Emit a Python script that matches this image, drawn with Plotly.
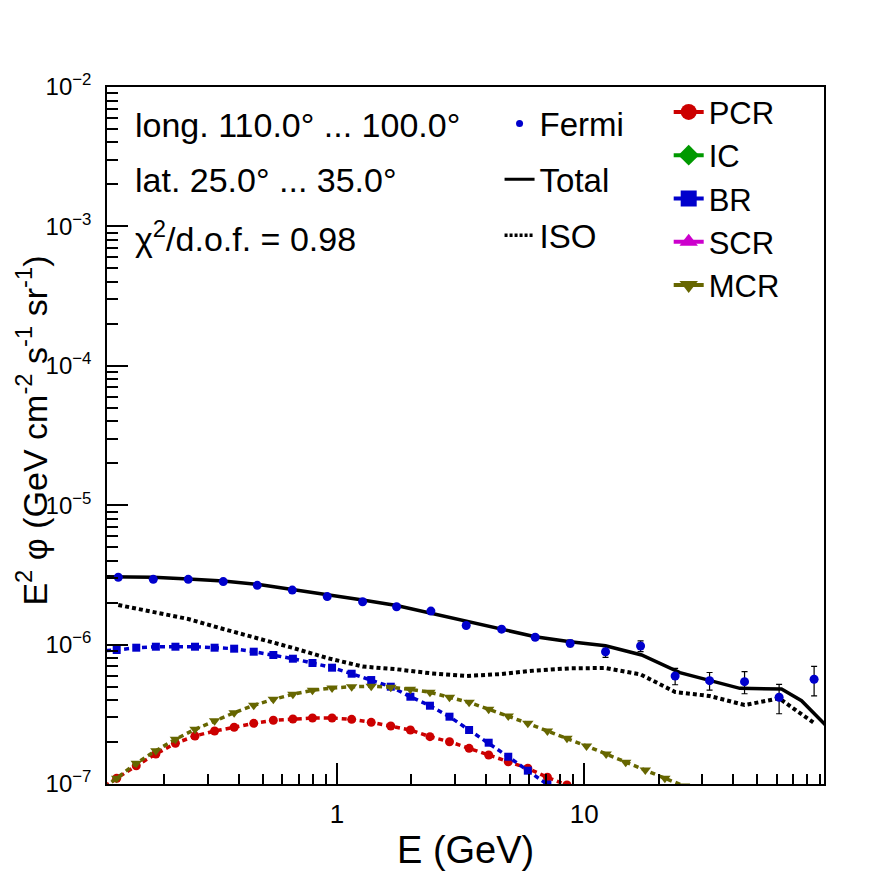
import plotly.graph_objects as go

# ---------------- data ----------------
E_fermi = [0.1305, 0.1808, 0.2504, 0.3469, 0.4762, 0.6597, 0.9137, 1.270, 1.743, 2.399,
           3.333, 4.634, 6.337, 8.778, 12.20, 16.91, 23.33, 32.15, 44.53, 61.44, 85.11]
fermi_flux = [3.04e-6, 2.94e-6, 2.94e-6, 2.83e-6, 2.66e-6, 2.46e-6, 2.21e-6, 2.03e-6, 1.87e-6, 1.74e-6,
              1.37e-6, 1.29e-6, 1.13e-6, 1.02e-6, 8.89e-7, 9.77e-7, 5.95e-7, 5.51e-7, 5.42e-7, 4.19e-7, 5.64e-7]
fermi_err = [9.0e-8, 8.8e-8, 8.8e-8, 8.5e-8, 8.0e-8, 7.4e-8, 6.6e-8, 6.1e-8, 5.6e-8, 5.2e-8,
             4.1e-8, 4.5e-8, 5.0e-8, 5.5e-8, 7.8e-8, 8.7e-8, 8.0e-8, 8.0e-8, 9.8e-8, 1.0e-7, 1.35e-7]

E_model = [0.1072, 0.1286, 0.1543, 0.1852, 0.2222, 0.2667, 0.3200, 0.3840, 0.4608, 0.5530,
           0.6636, 0.7963, 0.9556, 1.147, 1.376, 1.651, 1.982, 2.378, 2.853, 3.424,
           4.109, 4.931, 5.917, 7.100, 8.520, 10.22, 12.27, 14.72, 17.67, 21.20,
           25.44, 30.53, 36.64, 43.96, 52.76, 63.31, 75.97, 91.17]
pcr = [8.91e-8, 1.099e-7, 1.353e-7, 1.641e-7, 1.959e-7, 2.210e-7, 2.400e-7, 2.551e-7, 2.724e-7, 2.864e-7,
       2.926e-7, 2.975e-7, 2.975e-7, 2.911e-7, 2.770e-7, 2.606e-7, 2.440e-7, 2.185e-7, 2.011e-7, 1.803e-7,
       1.614e-7, 1.445e-7, 1.296e-7, 1.117e-7, 9.84e-8, 8.62e-8, 7.55e-8]
br = [8.995e-7, 9.145e-7, 9.501e-7, 9.658e-7, 9.658e-7, 9.658e-7, 9.501e-7, 9.346e-7, 8.893e-7, 8.421e-7,
      7.921e-7, 7.379e-7, 6.829e-7, 6.183e-7, 5.570e-7, 4.989e-7, 4.228e-7, 3.645e-7, 3.040e-7, 2.440e-7,
      1.978e-7, 1.569e-7, 1.246e-7, 9.92e-8, 7.93e-8]
mcr = [8.62e-8, 1.099e-7, 1.408e-7, 1.733e-7, 2.092e-7, 2.468e-7, 2.844e-7, 3.247e-7, 3.668e-7, 4.051e-7,
       4.398e-7, 4.698e-7, 4.880e-7, 4.989e-7, 5.022e-7, 4.940e-7, 4.780e-7, 4.548e-7, 4.186e-7, 3.855e-7,
       3.434e-7, 3.075e-7, 2.724e-7, 2.400e-7, 2.127e-7, 1.873e-7, 1.641e-7, 1.431e-7, 1.260e-7, 1.099e-7,
       9.67e-8, 8.48e-8]
ic = []    # not visible within the plotted range
scr = []   # not visible within the plotted range

iso = [1.924e-6, 1.722e-6, 1.526e-6, 1.294e-6, 1.115e-6, 9.50e-7, 8.01e-7, 6.966e-7, 6.651e-7, 6.224e-7,
       5.952e-7, 6.153e-7, 6.520e-7, 6.761e-7, 6.794e-7, 6.112e-7, 4.571e-7, 4.277e-7, 3.687e-7, 4.118e-7, 2.738e-7]

E_total = [0.1072, 0.1305, 0.1808, 0.2504, 0.3469, 0.4762, 0.6597, 0.9137, 1.270, 1.743, 2.399,
           3.333, 4.634, 6.337, 8.778, 12.20, 17.07, 24.38, 42.63, 62.83, 75.70, 94.04, 100.0]
total = [3.070e-6, 3.055e-6, 3.040e-6, 2.956e-6, 2.859e-6, 2.707e-6, 2.492e-6, 2.268e-6, 2.089e-6, 1.907e-6,
         1.677e-6, 1.460e-6, 1.288e-6, 1.139e-6, 1.049e-6, 9.82e-7, 8.42e-7, 6.286e-7, 4.857e-7, 4.802e-7,
         3.958e-7, 2.681e-7, 2.400e-7]

y_tick_vals = [1e-7, 1e-6, 1e-5, 1e-4, 1e-3, 1e-2]
y_tick_text = ["10<sup>\u22127</sup>", "10<sup>\u22126</sup>", "10<sup>\u22125</sup>",
               "10<sup>\u22124</sup>", "10<sup>\u22123</sup>", "10<sup>\u22122</sup>"]
x_tick_vals = [1, 10]
x_tick_text = ["1", "10"]

info_lines = ["long. 110.0\u00b0 ... 100.0\u00b0", "lat. 25.0\u00b0 ... 35.0\u00b0",
              "\u03c7<sup>2</sup>/d.o.f. = 0.98"]
x_title = "E (GeV)"
y_title = "E<sup>2</sup> \u03c6 (GeV cm<sup>-2</sup> s<sup>-1</sup> sr<sup>-1</sup>)"

# ---------------- figure ----------------
FONT = "Liberation Sans, Arial, Helvetica, sans-serif"
RED, GREEN, BLUE, MAGENTA, OLIVE = "#cc0000", "#009900", "#0000cc", "#cc00cc", "#666600"
dash = "5px,4px"

fig = go.Figure()

components = [("PCR", pcr, RED, "circle", 9), ("IC", ic, GREEN, "diamond", 9),
              ("BR", br, BLUE, "square", 8), ("SCR", scr, MAGENTA, "triangle-up", 10),
              ("MCR", mcr, OLIVE, "triangle-down", 10)]
for name, vals, col, sym, sz in components:
    fig.add_trace(go.Scatter(x=E_model[:len(vals)], y=vals, mode="lines+markers", name=name,
                             line=dict(color=col, width=3.5, dash=dash),
                             marker=dict(symbol=sym, size=sz, color=col),
                             showlegend=False))

fig.add_trace(go.Scatter(x=E_fermi, y=iso, mode="lines", name="ISO",
                         line=dict(color="black", width=4, dash="4px,3px"), showlegend=False))
fig.add_trace(go.Scatter(x=E_total, y=total, mode="lines", name="Total",
                         line=dict(color="black", width=3.5), showlegend=False))
fig.add_trace(go.Scatter(x=E_fermi, y=fermi_flux, mode="markers", name="Fermi",
                         marker=dict(symbol="circle", size=9, color=BLUE),
                         error_y=dict(type="data", array=fermi_err, color="black", thickness=1.2, width=3),
                         showlegend=False))

# legend entries (legend-only keys)
fig.add_trace(go.Scatter(x=[None], y=[None], mode="markers", name="Fermi", legendgroup="g1",
                         marker=dict(symbol="circle", size=7, color=BLUE), legend="legend"))
fig.add_trace(go.Scatter(x=[None], y=[None], mode="lines", name="Total", legendgroup="g2",
                         line=dict(color="black", width=3), legend="legend"))
fig.add_trace(go.Scatter(x=[None], y=[None], mode="lines", name="ISO", legendgroup="g3",
                         line=dict(color="black", width=3.5, dash="3px,2px"), legend="legend"))
for name, vals, col, sym, sz in components:
    fig.add_trace(go.Scatter(x=[None], y=[None], mode="lines+markers", name=name,
                             line=dict(color=col, width=4),
                             marker=dict(symbol=sym, size=16, color=col), legend="legend2"))

for i, t in enumerate(info_lines):
    fig.add_annotation(x=0.036, y=[0.9455, 0.8666, 0.7848][i], xref="paper", yref="paper",
                       text=t, showarrow=False, xanchor="left", yanchor="middle",
                       font=dict(size=34, color="black", family=FONT))

fig.add_annotation(x=0.5, y=-0.0947, xref="paper", yref="paper", text=x_title, showarrow=False,
                   xanchor="center", yanchor="middle", font=dict(size=38, color="black", family=FONT))
fig.add_annotation(x=-0.1046, y=0.507, xref="paper", yref="paper", text=y_title, showarrow=False,
                   textangle=-90, xanchor="center", yanchor="middle",
                   font=dict(size=34, color="black", family=FONT))

# page body has an 8px default margin, so the figure margins are offset by it
fig.update_layout(
    width=896, height=872,
    margin=dict(l=99, r=80, t=79, b=96, autoexpand=False),
    paper_bgcolor="white", plot_bgcolor="white",
    font=dict(family=FONT, color="black"),
    legend=dict(x=0.5475, y=0.9878, xanchor="left", yanchor="top", traceorder="grouped",
                font=dict(size=33, family=FONT), bgcolor="rgba(0,0,0,0)",
                tracegroupgap=10, itemwidth=30),
    legend2=dict(x=0.7834, y=1.0025, xanchor="left", yanchor="top", traceorder="normal",
                 font=dict(size=31, family=FONT), bgcolor="rgba(0,0,0,0)",
                 tracegroupgap=0, itemwidth=30),
    xaxis=dict(type="log", range=[-0.930, 1.970], automargin=False,
               tickmode="array", tickvals=x_tick_vals, ticktext=x_tick_text,
               ticks="inside", ticklen=21, tickwidth=1.5, tickcolor="black",
               minor=dict(tickmode="array",
                          tickvals=[0.2, 0.3, 0.4, 0.5, 0.6, 0.7, 0.8, 0.9,
                                    2, 3, 4, 5, 6, 7, 8, 9, 20, 30, 40, 50, 60, 70, 80, 90],
                          ticks="inside", ticklen=10, tickwidth=1.5, tickcolor="black", showgrid=False),
               showline=True, linecolor="black", linewidth=1.5, mirror=True,
               showgrid=False, zeroline=False,
               tickfont=dict(size=26, family=FONT), ticklabelstandoff=6),
    yaxis=dict(type="log", range=[-7, -2], automargin=False,
               tickmode="array", tickvals=y_tick_vals, ticktext=y_tick_text,
               ticks="inside", ticklen=21, tickwidth=1.5, tickcolor="black",
               minor=dict(tickmode="array",
                          tickvals=[m * 10.0 ** e for e in range(-7, -2) for m in range(2, 10)],
                          ticks="inside", ticklen=11, tickwidth=1.5, tickcolor="black", showgrid=False),
               showline=True, linecolor="black", linewidth=1.5, mirror=True,
               showgrid=False, zeroline=False,
               tickfont=dict(size=24, family=FONT), ticklabelstandoff=9),
)

fig.write_html("out.html")
